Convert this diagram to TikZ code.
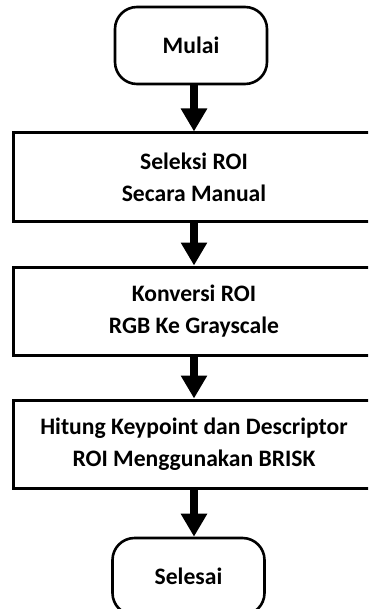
\documentclass[tikz,border=0pt]{standalone}
\usepackage{fontspec}
\setmainfont{Carlito}
\usetikzlibrary{arrows.meta}
\tikzset{
  terminal/.style={draw, line width=2.6bp, rounded corners=22bp,
    minimum width=152bp, minimum height=77bp, inner sep=0pt,
    font=\fontsize{23.6bp}{32bp}\selectfont\bfseries},
  process/.style={draw, line width=3bp, minimum width=360bp,
    minimum height=88bp, inner sep=0pt, align=center,
    font=\fontsize{23.6bp}{32bp}\selectfont\bfseries},
  flow/.style={line width=8bp, -{Triangle[width=25bp,length=23bp]}}
}
\begin{document}
\begin{tikzpicture}[x=1bp, y=-1bp]
\useasboundingbox (0,0) rectangle (368,609);
\clip (0,0) rectangle (368,609);
\fill[white] (0,0) rectangle (368,609);

\node[terminal] (mulai) at (191,45.5) {Mulai};
\node[process] (roi) at (194,177) {Seleksi ROI\\Secara Manual};
\node[process] (gray) at (194,311) {Konversi ROI\\RGB Ke Grayscale};
\node[process] (brisk) at (194,444) {Hitung Keypoint dan Descriptor\\ROI Menggunakan BRISK};
\node[terminal] (selesai) at (188.5,576.5) {Selesai};

\draw[flow] (mulai.south -| roi.south) -- (roi.north);
\draw[flow] (roi.south) -- (gray.north);
\draw[flow] (gray.south) -- (brisk.north);
\draw[flow] (brisk.south) -- (brisk.south |- selesai.north);
\end{tikzpicture}
\end{document}
